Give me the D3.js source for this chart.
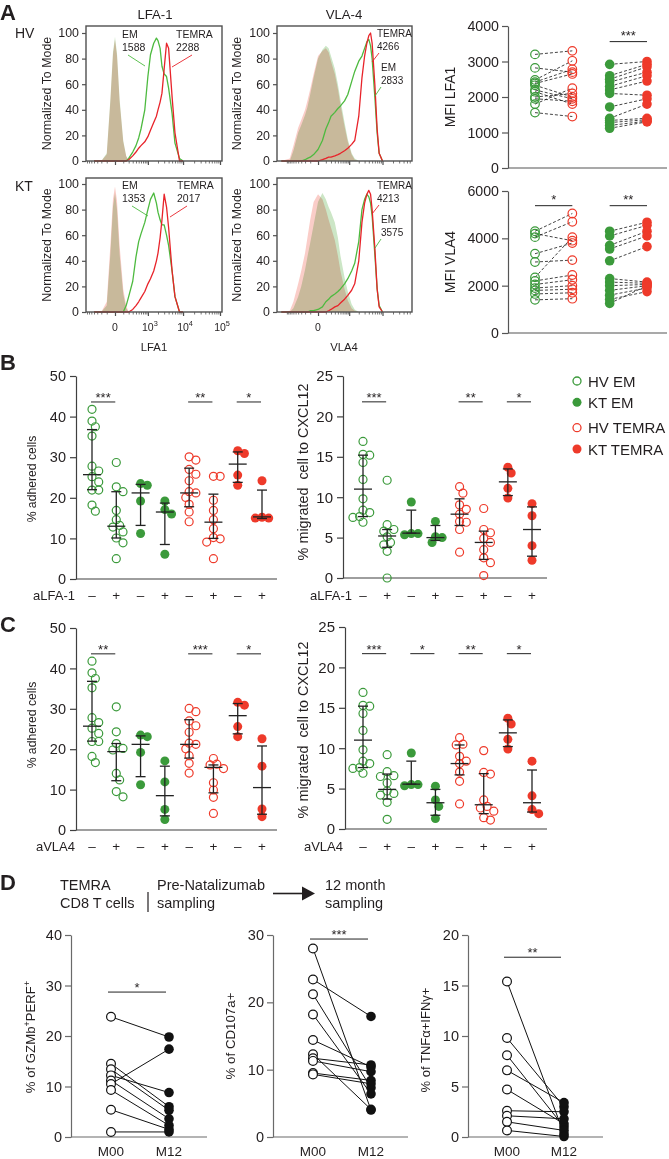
<!DOCTYPE html>
<html><head><meta charset="utf-8">
<script src="https://cdn.jsdelivr.net/npm/d3@7/dist/d3.min.js"></script>
<style>
html,body{margin:0;padding:0;background:#fff;}
svg{display:block;font-family:"Liberation Sans",Arial,Helvetica,sans-serif;}
</style></head><body>
<svg id="fig" width="669" height="1159" viewBox="0 0 669 1159"></svg>
<script>
// ================= DATA =================
// --- Panel A: flow histograms (x = fluorescence intensity bins, y = % of mode)
const binsLFA = [-400,-200,-100,-50,-20,0,20,50,100,150,200,300,400,500,600,800,1000,1200,1500,1800,2000,2300,2600,3000,3500,4000,5000,6000,8000,10000];
const hvLFA_isoEM = [0,0,6,48,85,97,84,48,16,4,0,0,0,0,0,0,0,0,0,0,0,0,0,0,0,0,0,0,0,0];
const hvLFA_isoTE = [0,0,5,46,83,95,82,46,15,4,0,0,0,0,0,0,0,0,0,0,0,0,0,0,0,0,0,0,0,0];
const hvLFA_EM    = [0,0,0,0,0,0,0,0,0,0,2,7,12,18,25,40,66,83,92,96,94,88,74,68,66,57,37,14,2,0];
const hvLFA_TE    = [0,0,0,0,0,0,0,0,0,0,1,4,7,10,12,15,19,24,30,35,40,46,53,72,92,88,50,22,0,0];
const ktLFA_isoEM = [0,0,5,45,82,93,80,45,14,3,0,0,0,0,0,0,0,0,0,0,0,0,0,0,0,0,0,0,0,0];
const ktLFA_isoTE = [0,0,8,52,88,98,87,52,18,5,0,0,0,0,0,0,0,0,0,0,0,0,0,0,0,0,0,0,0,0];
const ktLFA_EM    = [0,0,0,0,0,0,0,0,0,5,12,24,43,55,61,70,80,88,93,85,78,72,68,68,60,52,32,12,0,0];
const ktLFA_TE    = [0,0,0,0,0,0,0,0,0,0,0,2,5,8,11,16,22,26,32,40,46,58,72,92,82,66,32,12,0,0];

const binsVLA = [-1500,-800,-600,-400,-300,-200,-150,-100,-50,0,50,100,150,200,300,400,500,700,900,1200,1500,2000,2500,3000,3500,4000,4500,5000,6000,7000,8000,10000];
const hvVLA_isoEM = [0,0,8,22,28,36,42,52,65,80,87,90,88,82,72,60,48,30,17,6,2,0,0,0,0,0,0,0,0,0,0,0];
const hvVLA_isoTE = [0,2,12,26,32,40,47,56,68,82,86,88,85,78,68,56,44,27,15,5,1,0,0,0,0,0,0,0,0,0,0,0];
const hvVLA_EM    = [0,0,0,0,0,1,2,3,5,9,16,25,30,35,38,41,43,47,52,62,70,78,82,88,93,95,90,80,50,22,6,0];
const hvVLA_TE    = [0,0,0,0,0,0,0,0,0,0,1,2,3,3,4,5,6,8,10,13,16,35,65,82,92,98,100,92,60,25,6,0];
const ktVLA_isoEM = [0,0,3,12,20,33,43,54,68,86,93,88,82,78,70,58,44,27,16,6,2,0,0,0,0,0,0,0,0,0,0,0];
const ktVLA_isoTE = [0,1,8,22,32,46,58,72,86,92,88,80,72,66,56,44,32,18,9,3,1,0,0,0,0,0,0,0,0,0,0,0];
const ktVLA_EM    = [0,0,0,0,0,0,0,1,1,2,4,8,10,12,14,16,18,22,26,32,38,55,80,88,92,90,85,75,45,18,5,0];
const ktVLA_TE    = [0,0,0,0,0,0,0,0,0,0,0,0,1,2,4,5,7,10,13,17,22,40,70,85,92,95,92,80,50,18,4,0];

const mfiLabels = {hvLFA:["1588","2288"], ktLFA:["1353","2017"], hvVLA:["2833","4266"], ktVLA:["3575","4213"]};

// --- Panel A right: paired MFI
const lfaHVEM = [3200,2820,2480,2420,2380,2330,2200,2150,2000,1950,1800,1560];
const lfaHVTE = [3300,2700,3020,2780,2650,2000,1950,1800,2100,1880,2250,1450];
const lfaKTEM = [2920,2600,2500,2420,2300,2200,2100,1720,1400,1340,1280,1200,1120];
const lfaKTTE = [3000,2920,2850,2700,2600,2450,2050,1950,1800,1400,1360,1320,1300];
const vlaHVEM = [4300,4200,4050,3350,3000,2350,2200,2050,1900,1800,1650,1400];
const vlaHVTE = [5050,3900,4700,3800,3080,4050,2450,2250,2000,1850,1700,1450];
const vlaKTEM = [4300,4100,3700,3550,3050,2300,2150,2000,1800,1600,1420,1250];
const vlaKTTE = [4680,4550,4300,4100,3650,2150,2100,2050,2000,1900,1750,2000];
const mfiLFATicks = [0,1000,2000,3000,4000];
const mfiVLATicks = [0,2000,4000,6000];

// --- Panel B: aLFA-1 blocking (columns: HV EM -, +, KT EM -, +, HV TEMRA -, +, KT TEMRA -, +)
const adhB = [
  [41.8,38.9,37.5,35.2,27.8,26.6,25.2,23.9,21.9,21.9,18.2,16.7],
  [28.7,22.7,21.5,16.9,14.6,13.2,12.8,11.6,10.1,8.9,5.0],
  [23.5,23.1,19.2,11.2],
  [19.2,17.1,16.0,6.1],
  [30.1,29.3,27.0,25.8,24.2,21.5,21.2,20.1,18.4,16.5,14.1],
  [25.3,25.3,19.4,16.9,14.6,12.4,10.2,9.9,9.1,5.0],
  [31.6,30.9,25.6,23.1],
  [24.2,15.2,15.0,15.0]
];
const adhBStats = [[25.7,22.0,36.8],[13.0,10.1,21.5],[21.2,13.2,23.3],[16.5,8.5,18.7],[21.2,17.8,27.3],[14.0,10.0,20.9],[28.3,23.8,31.3],[15.3,14.9,21.9]];
const migB = [
  [16.9,15.3,15.2,14.3,12.2,9.8,8.4,8.1,7.6,7.5,6.9],
  [12.1,6.6,6.0,5.8,5.1,4.4,4.1,3.3,0.0],
  [9.4,5.5,5.5,5.35],
  [7.0,5.1,5.0,4.4],
  [11.3,10.5,9.05,8.5,7.9,7.0,6.9,6.0,3.2],
  [8.6,6.0,5.6,4.9,4.4,3.5,2.5,1.9,0.3],
  [13.7,13.0,11.1,9.9],
  [9.2,7.7,4.0,2.2]
];
const migBStats = [[11.0,7.6,15.2],[5.2,3.8,6.0],[5.55,5.55,8.4],[5.0,4.65,6.5],[7.9,6.5,9.8],[4.4,2.3,5.8],[11.9,10.2,13.5],[6.0,2.7,8.8]];
const sigB_adh = [[0,1,"***"],[4,5,"**"],[6,7,"*"]];
const sigB_mig = [[0,1,"***"],[4,5,"**"],[6,7,"*"]];

// --- Panel C: aVLA4 blocking
const adhC = [
  [41.8,38.9,37.5,35.2,27.8,26.6,25.2,23.9,21.9,21.9,18.2,16.7],
  [30.5,24.3,21.4,20.2,19.8,14.0,12.4,9.5,8.2],
  [23.5,23.1,19.2,11.2],
  [17.1,11.9,5.1,2.6],
  [30.1,29.3,27.0,25.8,24.2,21.5,21.2,20.1,18.4,16.5,14.1],
  [17.7,16.3,16.1,15.2,11.7,9.9,8.1,4.1],
  [31.6,30.9,25.6,23.1],
  [22.6,15.8,5.2,3.3]
];
const adhCStats = [[25.7,22.0,36.8],[19.4,12.2,21.4],[21.2,13.2,23.3],[8.5,3.5,15.8],[21.2,17.8,27.3],[15.5,9.2,16.1],[28.3,23.8,31.3],[10.5,3.9,20.8]];
const migC = [
  [16.9,15.3,15.2,14.3,12.2,9.8,8.4,8.1,7.6,7.5,6.9],
  [9.2,7.1,6.6,6.5,5.7,4.7,4.4,4.2,3.3,1.2],
  [9.4,5.5,5.5,5.35],
  [5.3,3.6,2.8,1.3],
  [11.3,10.5,10.4,9.0,8.4,8.1,7.05,5.9,3.1],
  [9.7,7.0,6.8,3.6,2.8,2.6,2.2,1.4,1.1],
  [13.7,13.0,11.1,9.9],
  [8.4,4.1,2.4,1.9]
];
const migCStats = [[11.0,7.6,15.2],[4.9,3.7,6.8],[5.55,5.55,8.4],[3.25,1.7,4.9],[8.1,6.7,10.4],[3.0,1.9,6.85],[11.9,10.2,13.5],[3.25,2.1,7.3]];
const sigC_adh = [[0,1,"**"],[4,5,"***"],[6,7,"*"]];
const sigC_mig = [[0,1,"***"],[2,3,"*"],[4,5,"**"],[6,7,"*"]];
const adhTicks = [0,10,20,30,40,50];
const migTicks = [0,5,10,15,20,25];
const catSigns = ["\u2013","+","\u2013","+","\u2013","+","\u2013","+"];
const legendItems = ["HV EM","KT EM","HV TEMRA","KT TEMRA"];

// --- Panel D: paired M00 vs M12
const gzmbM00 = [23.8,14.5,13.4,12.2,11.2,10.5,9.3,5.4,1.0];
const gzmbM12 = [19.8,6.0,5.3,8.8,3.6,17.4,2.3,1.5,1.0];
const cd107M00 = [28.0,23.4,21.2,18.2,14.4,12.3,11.7,11.3,9.5,9.3];
const cd107M12 = [4.0,17.9,7.3,6.4,10.4,4.1,10.7,9.7,8.4,7.9];
const tnfM00 = [15.4,9.8,8.1,6.6,4.7,2.6,2.1,1.5,0.65];
const tnfM12 = [0.3,3.0,1.0,3.4,1.3,2.5,1.8,0.65,0.05];
const timepoints = ["M00","M12"];

// ================= DRAW =================
const svg = d3.select("#fig");
const INK = "#231f20";
const GREEN = "#3b9a3b", RED = "#ee3a2a", HGREEN = "#4dba3f", HRED = "#e8232a";
const ISO_TE = "rgb(250,205,200)", ISO_EM = "rgb(204,230,198)";
const intFmt = d3.format("d");

function txt(x, y, s, size, opt = {}) {
  const t = svg.append("text").attr("x", x).attr("y", y).attr("font-size", size).attr("fill", opt.fill || INK).text(s);
  if (opt.anchor) t.attr("text-anchor", opt.anchor);
  if (opt.weight) t.attr("font-weight", opt.weight);
  return t;
}
function vtxt(cx, cy, s, size) {
  return svg.append("text").attr("transform", `translate(${cx},${cy}) rotate(-90)`)
    .attr("text-anchor", "middle").attr("dy", "0.35em").attr("font-size", size)
    .attr("fill", INK).style("white-space", "pre").text(s);
}
function styleAxis(g, color, w, fs) {
  g.attr("font-family", null).attr("font-size", null);
  g.selectAll(".domain").attr("stroke", color).attr("stroke-width", w);
  g.selectAll(".tick line").attr("stroke", color).attr("stroke-width", w);
  g.selectAll(".tick text").attr("fill", INK).attr("font-size", fs);
}

// ---------- Panel labels ----------
txt(0, 20, "A", 22, {weight: "bold"});
txt(0, 370, "B", 22, {weight: "bold"});
txt(0, 632, "C", 22, {weight: "bold"});
txt(0, 890, "D", 22, {weight: "bold"});

// ---------- Panel A histograms ----------
const xLFA = d3.scaleSymlog().constant(150).domain([-753, 113000]).range([86, 222]);
const xVLA = d3.scaleSymlog().constant(150).domain([-2040, 69600]).range([277, 412]);
const minorTicks = d3.range(-1000, 0, 100).concat(d3.range(100, 1000, 100), d3.range(2000, 10000, 1000), d3.range(20000, 100000, 10000));

function histo(c) {
  const X = c.scale;
  const y = d3.scaleLinear().domain([0, 100]).range([c.y0, c.y100]);
  const g = svg.append("g");
  const area = d3.area().x((d, i) => X(c.bins[i])).y0(y(0)).y1(d => y(d));
  const line = d3.line().x((d, i) => X(c.bins[i])).y(d => y(d));
  g.append("path").attr("d", area(c.isoTE)).attr("fill", ISO_TE);
  g.append("path").attr("d", area(c.isoEM)).attr("fill", ISO_EM).style("mix-blend-mode", "multiply");
  g.append("path").attr("d", line(c.em)).attr("fill", "none").attr("stroke", HGREEN).attr("stroke-width", 1.3).attr("stroke-linejoin", "round");
  g.append("path").attr("d", line(c.te)).attr("fill", "none").attr("stroke", HRED).attr("stroke-width", 1.3).attr("stroke-linejoin", "round");
  const [L, R] = X.range();
  g.append("rect").attr("x", L).attr("y", c.top).attr("width", R - L).attr("height", c.y0 - c.top)
    .attr("fill", "none").attr("stroke", "#505050").attr("stroke-width", 1.4);
  const ya = g.append("g").attr("transform", `translate(${L},0)`)
    .call(d3.axisLeft(y).tickValues([0, 20, 40, 60, 80, 100]).tickSize(4).tickPadding(3).tickSizeOuter(0));
  ya.select(".domain").remove();
  styleAxis(ya, "#505050", 1.2, 12.4);
  const dom = X.domain();
  const xm = g.append("g").attr("transform", `translate(0,${c.y0})`)
    .call(d3.axisBottom(X).tickValues(minorTicks.filter(v => v > dom[0] && v < dom[1])).tickSize(2.5).tickFormat("").tickSizeOuter(0));
  xm.select(".domain").remove();
  styleAxis(xm, "#505050", 0.8, 10);
  const xa = g.append("g").attr("transform", `translate(0,${c.y0})`)
    .call(d3.axisBottom(X).tickValues(c.major).tickSize(4).tickFormat("").tickSizeOuter(0));
  xa.select(".domain").remove();
  styleAxis(xa, "#505050", 1.2, 10);
  vtxt(c.ylabX, (c.top + c.y0) / 2, "Normalized To Mode", 12.4);
  const a = c.ann;
  txt(a.emX, a.emY, "EM", a.fs);
  txt(a.emX, a.emY + 13, a.em, a.fs);
  txt(a.teX, a.teY, "TEMRA", a.fs);
  txt(a.teX, a.teY + 13, a.te, a.fs);
  g.append("line").attr("x1", a.gl[0]).attr("y1", a.gl[1]).attr("x2", a.gl[2]).attr("y2", a.gl[3]).attr("stroke", HGREEN).attr("stroke-width", 0.9);
  g.append("line").attr("x1", a.rl[0]).attr("y1", a.rl[1]).attr("x2", a.rl[2]).attr("y2", a.rl[3]).attr("stroke", HRED).attr("stroke-width", 0.9);
}

txt(155, 19, "LFA-1", 13.2, {anchor: "middle"});
txt(344, 19, "VLA-4", 13.2, {anchor: "middle"});
txt(15, 38, "HV", 14);
txt(15, 191, "KT", 14);

histo({scale: xLFA, bins: binsLFA, top: 26, y0: 161, y100: 33, isoEM: hvLFA_isoEM, isoTE: hvLFA_isoTE, em: hvLFA_EM, te: hvLFA_TE,
  major: [0, 1e3, 1e4, 1e5], ylabX: 47,
  ann: {fs: 10.5, emX: 122, emY: 38, em: mfiLabels.hvLFA[0], teX: 176, teY: 38, te: mfiLabels.hvLFA[1],
        gl: [128, 55, 145, 66], rl: [192, 55, 172, 67]}});
histo({scale: xLFA, bins: binsLFA, top: 178, y0: 312, y100: 184, isoEM: ktLFA_isoEM, isoTE: ktLFA_isoTE, em: ktLFA_EM, te: ktLFA_TE,
  major: [0, 1e3, 1e4, 1e5], ylabX: 47,
  ann: {fs: 10.5, emX: 122, emY: 189, em: mfiLabels.ktLFA[0], teX: 177, teY: 189, te: mfiLabels.ktLFA[1],
        gl: [132, 206, 148, 216], rl: [187, 206, 170, 217]}});
histo({scale: xVLA, bins: binsVLA, top: 26, y0: 161, y100: 33, isoEM: hvVLA_isoEM, isoTE: hvVLA_isoTE, em: hvVLA_EM, te: hvVLA_TE,
  major: [0, 1e3, 1e4], ylabX: 237,
  ann: {fs: 10, emX: 381, emY: 71, em: mfiLabels.hvVLA[0], teX: 377, teY: 37, te: mfiLabels.hvVLA[1],
        gl: [381, 87, 375, 96], rl: [379, 53, 372, 62]}});
histo({scale: xVLA, bins: binsVLA, top: 178, y0: 312, y100: 184, isoEM: ktVLA_isoEM, isoTE: ktVLA_isoTE, em: ktVLA_EM, te: ktVLA_TE,
  major: [0, 1e3, 1e4], ylabX: 237,
  ann: {fs: 10, emX: 381, emY: 223, em: mfiLabels.ktVLA[0], teX: 377, teY: 189, te: mfiLabels.ktVLA[1],
        gl: [381, 239, 375, 248], rl: [379, 205, 372, 214]}});

function powLabel(X, v, exp, y, fs) {
  const t = svg.append("text").attr("x", X(v) + 2).attr("y", y).attr("text-anchor", "middle").attr("font-size", fs).attr("fill", INK);
  t.append("tspan").text("10");
  t.append("tspan").attr("dy", -fs * 0.45).attr("font-size", fs * 0.7).text(exp);
}
txt(xLFA(0), 331, "0", 10.5, {anchor: "middle"});
powLabel(xLFA, 1e3, "3", 331, 10.5);
powLabel(xLFA, 1e4, "4", 331, 10.5);
powLabel(xLFA, 1e5, "5", 331, 10.5);
txt(xVLA(0), 331, "0", 10.5, {anchor: "middle"});
txt(154, 351, "LFA1", 11.3, {anchor: "middle"});
txt(344, 351, "VLA4", 11.3, {anchor: "middle"});

// ---------- Panel A right: paired MFI ----------
function mfiPanel(c) {
  const y = d3.scaleLinear().domain([0, c.max]).range([c.yb, c.yt]);
  const x = d3.scalePoint().domain(["hvEM", "hvTE", "ktEM", "ktTE"]).range([535, 647]);
  const g = svg.append("g");
  const ya = g.append("g").attr("transform", "translate(508,0)")
    .call(d3.axisLeft(y).tickValues(c.ticks).tickFormat(intFmt).tickSize(6).tickPadding(3).tickSizeOuter(0));
  styleAxis(ya, "#555", 1.2, 14.2);
  g.append("line").attr("x1", 508).attr("x2", 667).attr("y1", c.yb).attr("y2", c.yb).attr("stroke", "#555").attr("stroke-width", 1.2);
  const pairs = [[c.hvEM, c.hvTE, "hvEM", "hvTE"], [c.ktEM, c.ktTE, "ktEM", "ktTE"]];
  pairs.forEach(([a, b, ka, kb]) => {
    g.selectAll(null).data(a).join("line")
      .attr("x1", x(ka)).attr("y1", d => y(d)).attr("x2", x(kb)).attr("y2", (d, i) => y(b[i]))
      .attr("stroke", "#222").attr("stroke-width", 0.85).attr("stroke-dasharray", "3,2");
  });
  const sets = [[c.hvEM, "hvEM", GREEN, false], [c.hvTE, "hvTE", RED, false], [c.ktEM, "ktEM", GREEN, true], [c.ktTE, "ktTE", RED, true]];
  sets.forEach(([vals, k, col, filled]) => {
    g.selectAll(null).data(vals).join("circle").attr("cx", x(k)).attr("cy", d => y(d))
      .attr("r", filled ? 4.8 : 4.3).attr("fill", filled ? col : "none").attr("stroke", col).attr("stroke-width", filled ? 0 : 1.2);
  });
  c.sig.forEach(([ka, kb, lab]) => {
    const ly = y(c.sigLevel);
    g.append("line").attr("x1", x(ka)).attr("x2", x(kb)).attr("y1", ly).attr("y2", ly).attr("stroke", "#222").attr("stroke-width", 1);
    txt((x(ka) + x(kb)) / 2, ly - 1.5, lab, 13, {anchor: "middle"});
  });
  vtxt(450, c.labY, c.label, 14);
}
mfiPanel({max: 4000, yt: 26, yb: 168, ticks: mfiLFATicks, hvEM: lfaHVEM, hvTE: lfaHVTE, ktEM: lfaKTEM, ktTE: lfaKTTE,
  sig: [["ktEM", "ktTE", "***"]], sigLevel: 3560, label: "MFI LFA1", labY: 97});
mfiPanel({max: 6000, yt: 191, yb: 333, ticks: mfiVLATicks, hvEM: vlaHVEM, hvTE: vlaHVTE, ktEM: vlaKTEM, ktTE: vlaKTTE,
  sig: [["hvEM", "hvTE", "*"], ["ktEM", "ktTE", "**"]], sigLevel: 5380, label: "MFI VLA4", labY: 262});

// ---------- Panels B & C ----------
function dodge(vals, y, r) {
  const order = vals.map((v, i) => i).sort((a, b) => vals[b] - vals[a]);
  const placed = [], off = [];
  const steps = [0];
  for (let k = 1; k <= 8; k++) steps.push(k * r * 0.8, -k * r * 0.8);
  for (const i of order) {
    const py = y(vals[i]);
    let o = 0;
    for (const s of steps) {
      if (placed.every(p => Math.hypot(p[0] - s, p[1] - py) >= r * 1.55)) { o = s; break; }
    }
    placed.push([o, py]);
    off[i] = o;
  }
  return off;
}
function dotPanel(c) {
  const y = d3.scaleLinear().domain([0, c.max]).range([c.yb, c.yt]);
  const x = d3.scalePoint().domain(d3.range(8)).range(c.cr);
  const g = svg.append("g");
  const ya = g.append("g").attr("transform", `translate(${c.ax},0)`)
    .call(d3.axisLeft(y).tickValues(c.ticks).tickSize(6).tickPadding(4).tickSizeOuter(0));
  styleAxis(ya, "#3f3f3f", 1.2, c.tf);
  g.append("line").attr("x1", c.ax).attr("x2", c.axEnd).attr("y1", c.yb).attr("y2", c.yb).attr("stroke", "#3f3f3f").attr("stroke-width", 1.2);
  c.groups.forEach((vals, i) => {
    const col = i < 4 ? GREEN : RED;
    const filled = (i === 2 || i === 3 || i === 6 || i === 7);
    const off = dodge(vals, y, 4.2);
    g.selectAll(null).data(vals).join("circle")
      .attr("cx", (d, k) => x(i) + off[k]).attr("cy", d => y(d)).attr("r", filled ? 4.5 : 4)
      .attr("fill", filled ? col : "none").attr("stroke", col).attr("stroke-width", filled ? 0 : 1.2);
  });
  c.stats.forEach(([m, lo, hi], i) => {
    const cx = x(i);
    g.append("line").attr("x1", cx).attr("x2", cx).attr("y1", y(lo)).attr("y2", y(hi)).attr("stroke", "#222").attr("stroke-width", 1.3);
    [lo, hi].forEach(v => g.append("line").attr("x1", cx - 5).attr("x2", cx + 5).attr("y1", y(v)).attr("y2", y(v)).attr("stroke", "#222").attr("stroke-width", 1.3));
    g.append("line").attr("x1", cx - 9).attr("x2", cx + 9).attr("y1", y(m)).attr("y2", y(m)).attr("stroke", "#222").attr("stroke-width", 1.3);
  });
  c.sig.forEach(([a, b, lab]) => {
    const ly = y(c.sigLevel);
    g.append("line").attr("x1", x(a) - 1).attr("x2", x(b) - 1).attr("y1", ly).attr("y2", ly).attr("stroke", "#222").attr("stroke-width", 1);
    txt((x(a) + x(b)) / 2 - 1, ly + 0.5, lab, 13, {anchor: "middle"});
  });
  catSigns.forEach((s, i) => txt(x(i), c.catY, s, 13.5, {anchor: "middle"}));
  txt(c.xlabEnd, c.catY, c.xlab, 13, {anchor: "end"});
  vtxt(c.ylabX, c.ylabY, c.ylab, c.ylabFs);
}
dotPanel({max: 50, yt: 376, yb: 579, ax: 76, axEnd: 277, cr: [92, 262], ticks: adhTicks, tf: 14.5,
  groups: adhB, stats: adhBStats, sig: sigB_adh, sigLevel: 43.6, catY: 600, xlab: "aLFA-1", xlabEnd: 75,
  ylab: "% adhered cells", ylabX: 32, ylabY: 479, ylabFs: 12.2});
dotPanel({max: 25, yt: 376, yb: 578, ax: 343, axEnd: 547, cr: [363, 532], ticks: migTicks, tf: 15,
  groups: migB, stats: migBStats, sig: sigB_mig, sigLevel: 21.8, catY: 600, xlab: "aLFA-1", xlabEnd: 352,
  ylab: "% migrated  cell to CXCL12", ylabX: 303, ylabY: 472, ylabFs: 14.4});
dotPanel({max: 50, yt: 628, yb: 830, ax: 76, axEnd: 277, cr: [92, 262], ticks: adhTicks, tf: 14.5,
  groups: adhC, stats: adhCStats, sig: sigC_adh, sigLevel: 43.6, catY: 851, xlab: "aVLA4", xlabEnd: 75,
  ylab: "% adhered cells", ylabX: 32, ylabY: 725, ylabFs: 12.2});
dotPanel({max: 25, yt: 627, yb: 829, ax: 345, axEnd: 547, cr: [363, 532], ticks: migTicks, tf: 15,
  groups: migC, stats: migCStats, sig: sigC_mig, sigLevel: 21.7, catY: 851, xlab: "aVLA4", xlabEnd: 343,
  ylab: "% migrated  cell to CXCL12", ylabX: 303, ylabY: 730, ylabFs: 14.4});

// Legend
const legY = d3.scalePoint().domain(legendItems).range([383, 447]);
legendItems.forEach((name, i) => {
  const col = i < 2 ? GREEN : RED;
  const filled = i % 2 === 1;
  const yy = legY(name) + (i >= 2 ? 2 : -2);
  svg.append("circle").attr("cx", 577).attr("cy", yy).attr("r", filled ? 4.5 : 4)
    .attr("fill", filled ? col : "none").attr("stroke", col).attr("stroke-width", filled ? 0 : 1.3);
  txt(588, yy + 5.5, name, 15);
});

// ---------- Panel D ----------
txt(60, 890, "TEMRA", 14.5);
txt(60, 908, "CD8 T cells", 14.5);
svg.append("line").attr("x1", 148).attr("x2", 148).attr("y1", 892).attr("y2", 912).attr("stroke", INK).attr("stroke-width", 1.2);
txt(157, 890, "Pre-Natalizumab", 14.5);
txt(157, 908, "sampling", 14.5);
svg.append("line").attr("x1", 273).attr("x2", 304).attr("y1", 893.5).attr("y2", 893.5).attr("stroke", INK).attr("stroke-width", 1.6);
svg.append("path").attr("d", "M302,886.5 L315,893.5 L302,900.5 Z").attr("fill", INK);
txt(325, 890, "12 month", 14.5);
txt(325, 908, "sampling", 14.5);

function pairPanel(c) {
  const y = d3.scaleLinear().domain([0, c.max]).range([1137, 935]);
  const x = d3.scalePoint().domain(timepoints).range([c.m0, c.m1]);
  const g = svg.append("g");
  const ya = g.append("g").attr("transform", `translate(${c.ax},0)`)
    .call(d3.axisLeft(y).tickValues(c.ticks).tickSize(6).tickPadding(3).tickSizeOuter(0));
  styleAxis(ya, "#6a6a6a", 1.2, 14.5);
  g.append("line").attr("x1", c.ax).attr("x2", c.axEnd).attr("y1", 1137).attr("y2", 1137).attr("stroke", "#6a6a6a").attr("stroke-width", 1.2);
  g.selectAll(null).data(c.a).join("line")
    .attr("x1", x("M00")).attr("y1", d => y(d)).attr("x2", x("M12")).attr("y2", (d, i) => y(c.b[i]))
    .attr("stroke", "#111").attr("stroke-width", 1);
  g.selectAll(null).data(c.a).join("circle").attr("cx", x("M00")).attr("cy", d => y(d)).attr("r", 4.4)
    .attr("fill", "#fff").attr("stroke", "#111").attr("stroke-width", 1.2);
  g.selectAll(null).data(c.b).join("circle").attr("cx", x("M12")).attr("cy", d => y(d)).attr("r", 4.8).attr("fill", "#111");
  const ly = y(c.sigLevel);
  g.append("line").attr("x1", x("M00") - 3).attr("x2", x("M12") - 3).attr("y1", ly).attr("y2", ly).attr("stroke", "#222").attr("stroke-width", 1);
  txt((x("M00") + x("M12")) / 2 - 3, ly - 0.5, c.sig, 13, {anchor: "middle"});
  timepoints.forEach(t => txt(x(t), 1156, t, 13.5, {anchor: "middle"}));
}
pairPanel({max: 40, ticks: [0, 10, 20, 30, 40], ax: 71, axEnd: 207, m0: 111, m1: 169, a: gzmbM00, b: gzmbM12, sig: "*", sigLevel: 28.7});
pairPanel({max: 30, ticks: [0, 10, 20, 30], ax: 273, axEnd: 408, m0: 313, m1: 371, a: cd107M00, b: cd107M12, sig: "***", sigLevel: 29.4});
pairPanel({max: 20, ticks: [0, 5, 10, 15, 20], ax: 468, axEnd: 603, m0: 507, m1: 564, a: tnfM00, b: tnfM12, sig: "**", sigLevel: 17.8});

(function () {
  const t = svg.append("text").attr("transform", "translate(30,1037) rotate(-90)").attr("text-anchor", "middle")
    .attr("dy", "0.35em").attr("font-size", 13.2).attr("fill", INK);
  t.append("tspan").text("% of GZMb");
  t.append("tspan").attr("baseline-shift", "super").attr("font-size", 9).text("+");
  t.append("tspan").text("PERF");
  t.append("tspan").attr("baseline-shift", "super").attr("font-size", 9).text("+");
})();
vtxt(230, 1036, "% of CD107a+", 13.3);
vtxt(425, 1040, "% of TNF\u03b1+IFN\u03b3+", 13);
</script>
</body></html>
